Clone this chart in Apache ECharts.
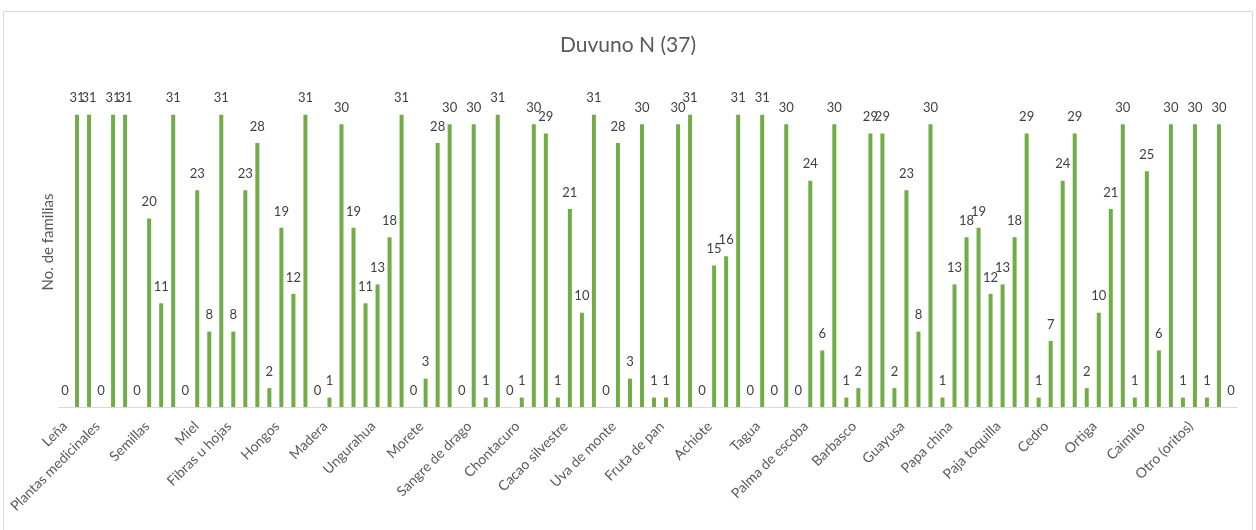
<!DOCTYPE html>
<html>
<head>
<meta charset="utf-8">
<script src="https://cdn.jsdelivr.net/npm/echarts@6/dist/echarts.min.js"></script>
<style>
html,body{margin:0;padding:0;background:#fff;}
#c{width:1256px;height:530px;}
</style>
</head>
<body>
<div id="c"></div>
<script>
const title = 'Duvuno N (37)';
const yName = 'No. de familias';
const products = ['Leña','Plantas medicinales','Semillas','Miel','Fibras u hojas','Hongos','Madera','Ungurahua','Morete','Sangre de drago','Chontacuro','Cacao silvestre','Uva de monte','Fruta de pan','Achiote','Tagua','Palma de escoba','Barbasco','Guayusa','Papa china','Paja toquilla','Cedro','Ortiga','Caimito','Otro (oritos)'];
// four consecutive bars per product (the last product has two)
const bar1 = [0,31,11,8,28,31,19,31,30,31,29,31,30,31,31,30,30,29,30,19,29,29,30,30,30];
const bar2 = [31,31,31,31,2,0,11,0,0,0,1,0,1,0,0,0,1,2,1,12,1,2,1,1,0];
const bar3 = [31,0,0,8,19,1,13,3,30,1,21,28,1,15,31,24,2,23,13,13,7,10,25,30,null];
const bar4 = [0,20,23,23,12,30,18,28,1,30,10,3,30,16,0,6,29,8,18,18,24,21,6,1,null];

const groups = [bar1, bar2, bar3, bar4];
const cats = [];
const vals = [];
products.forEach((p, i) => {
  groups.forEach((g, j) => {
    if (g[i] !== null && g[i] !== undefined) {
      cats.push(i + '|' + j);
      vals.push(g[i]);
    }
  });
});

const FONT = 'Lato';
const LBL = {fontFamily: FONT, fontSize: 14, color: '#595959'};
// horizontal shift of the rotated tick labels (Excel-like placement)
function shift(dx) {
  const p = Math.round(-dx / 1.414);
  return Object.assign({padding: [0, p, 2 * p, 0]}, LBL);
}
const rich = {r0: shift(0), r1: shift(-15), r2: shift(-14), r3: shift(-13), rg: shift(-28)};

const chart = echarts.init(document.getElementById('c'), null, {renderer: 'canvas'});
chart.setOption({
  backgroundColor: '#ffffff',
  animation: false,
  textStyle: {fontFamily: FONT},
  title: {
    text: title, left: 'center', top: 30,
    textStyle: {fontFamily: FONT, fontSize: 21, fontWeight: 'normal', color: '#595959'}
  },
  graphic: [{
    type: 'rect', shape: {x: 3.5, y: 11.5, width: 1249, height: 530},
    style: {fill: 'none', stroke: '#d9d9d9', lineWidth: 1}, silent: true
  }],
  grid: {left: 59, right: 19, top: 77, bottom: 123, containLabel: false},
  xAxis: {
    type: 'category', data: cats,
    axisLine: {lineStyle: {color: '#d9d9d9', width: 1}},
    axisTick: {show: false},
    axisLabel: Object.assign({
      interval: 0, rotate: 45, margin: 17, rich: rich,
      formatter: v => {
        const [i, j] = v.split('|');
        if (j !== '0') return '';
        const k = +i < 4 ? 'r' + i : 'rg';
        return '{' + k + '|' + products[+i] + '}';
      }
    }, LBL)
  },
  yAxis: {
    type: 'value', min: 0, max: 35,
    name: yName, nameLocation: 'middle', nameGap: 3, nameRotate: 90,
    nameTextStyle: {fontFamily: FONT, fontSize: 15, color: '#595959'},
    axisLine: {show: false}, axisTick: {show: false}, axisLabel: {show: false},
    splitLine: {show: false}
  },
  series: [{
    type: 'bar', data: vals, barWidth: 4,
    itemStyle: {color: '#70ad47'},
    label: {show: true, position: 'top', distance: 10, fontFamily: FONT, fontSize: 13, color: '#404040'}
  }]
});
</script>
</body>
</html>
